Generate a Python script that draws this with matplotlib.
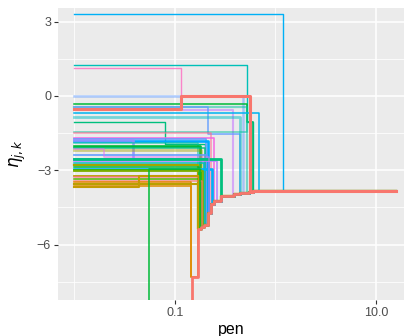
import numpy as np
import matplotlib.pyplot as plt
from matplotlib.ticker import FixedLocator, FixedFormatter, NullFormatter

plt.rcParams['font.family'] = ['Liberation Sans', 'DejaVu Sans']
plt.rcParams['mathtext.fontset'] = 'dejavusans'

# fused path that every coefficient ends up on
main_pen = [0.01, 0.149, 0.168, 0.180, 0.196, 0.212, 0.228, 0.246, 0.285,
            0.387, 0.444, 0.549, 0.601, 16.0]
main_eta = [-12.0, -7.31, -5.38, -5.29, -5.21, -4.71, -4.37, -4.26, -4.04,
            -3.98, -3.93, -3.86, -3.84, -3.84]

# each coefficient: value at the smallest pen, intermediate jumps, pen where it joins the fused path
start_eta = [3.30, 1.23, 1.12, 0.00, -0.31, -0.43, -0.57, -0.45, -0.70, -0.85,
             -1.07, -1.45, -1.49, -1.68, -1.74, -1.80, -1.78, -1.91, -2.03, -2.10,
             -2.20, -2.37, -2.53, -2.61, -2.70, -2.79, -2.88, -2.95, -2.54, -3.01,
             -3.05, -3.24, -3.28, -3.35, -3.42, -3.48, -3.55, -3.62, -3.69, -10.0,
             -2.15, -0.51]
mid_steps = [[], [(0.517, -1.07)], [(0.116, 0.0)], [], [(0.517, -1.07)], [], [],
             [(0.211, -1.55)], [], [],
             [(0.080, -1.95)], [(0.517, -1.07)], [], [], [], [], [(0.038, -2.54)], [], [], [],
             [], [], [], [], [], [], [], [], [], [],
             [], [], [], [], [], [(0.146, -7.31)], [], [(0.146, -7.31)], [(0.044, -3.24)],
             [(0.0555, -2.95)],
             [(0.0195, -2.45)], [(0.116, 0.0)]]
join_pen = [1.18, 0.60, 0.557, 0.478, 0.60, 0.52, 0.38, 0.444, 0.685, 0.444,
            0.20, 0.60, 0.228, 0.246, 0.205, 0.212, 0.196, 0.168, 0.176, 0.20,
            0.18, 0.21, 0.212, 0.26, 0.196, 0.17, 0.172, 0.235, 0.285, 0.18,
            0.19, 0.168, 0.172, 0.176, 0.185, 0.168, 0.17, 0.168, 0.172, 0.176,
            0.22, 0.557]

line_colors = ['#00B0F6', '#00C0B8', '#FF6AC1', '#619CFF', '#00BA38', '#00C1A3', '#C77CFF',
               '#619CFF', '#00B4F0', '#00BFC4', '#00BF7D', '#00C19A', '#FF6C91', '#F564E3',
               '#619CFF', '#00A9FF', '#9590FF', '#00C1A3', '#00BA38', '#00BF7D', '#A3A500',
               '#619CFF', '#00A5FF', '#B983FF', '#00BFC4', '#A3A500', '#00BA38', '#00B0F6',
               '#00BF7D', '#39B600', '#7CAE00', '#B79F00', '#FF6C91', '#53B400', '#F8766D',
               '#E58700', '#B9A000', '#DE8C00', '#C49A00', '#00BA38', '#E76BF3', '#F8766D']
line_widths = [1.0, 1.0, 1.0, 1.8, 1.1, 1.6, 1.5, 1.1, 1.1, 2.0,
               1.0, 1.1, 1.1, 1.2, 1.3, 1.9, 1.9, 1.1, 1.9, 1.1,
               2.0, 1.3, 2.0, 1.3, 1.1, 1.6, 1.1, 1.9, 2.0, 1.3,
               1.3, 1.3, 1.1, 1.1, 1.1, 1.1, 1.5, 1.1, 1.5, 1.1,
               1.1, 2.2]
line_alphas = [1, 1, 0.8, 0.5, 1, 0.5, 0.6, 0.9, 1, 0.5,
               1, 0.6, 0.7, 0.9, 0.9, 1, 0.9, 0.7, 1, 0.9,
               0.45, 0.9, 1, 0.9, 1, 1, 1, 1, 1, 1,
               1, 1, 0.8, 1, 0.8, 1, 1, 1, 1, 1,
               0.6, 1]


def build_path(start, steps, join):
    xs, ys = [0.01], [start]
    for p, v in steps:
        xs.append(p)
        ys.append(v)
    k = np.searchsorted(main_pen, join, side='right') - 1
    xs.append(join)
    ys.append(main_eta[k])
    xs.extend(main_pen[k + 1:])
    ys.extend(main_eta[k + 1:])
    return xs, ys


fig = plt.figure(figsize=(4.08, 3.36), dpi=100)
ax = fig.add_axes([58 / 408, 36 / 336, 346 / 408, 292 / 336])
ax.set_facecolor('#EBEBEB')
for s in ax.spines.values():
    s.set_visible(False)

ax.set_xscale('log')
ax.set_xlim(10 ** -2.164, 10 ** 1.279)
ax.set_ylim(-8.24, 3.55)

ax.xaxis.set_major_locator(FixedLocator([0.1, 10.0]))
ax.xaxis.set_major_formatter(FixedFormatter(['0.1', '10.0']))
ax.xaxis.set_minor_locator(FixedLocator([0.01, 1.0, 100.0]))
ax.xaxis.set_minor_formatter(NullFormatter())
ax.yaxis.set_major_locator(FixedLocator([-6, -3, 0, 3]))
ax.yaxis.set_major_formatter(FixedFormatter(['\u22126', '\u22123', '0', '3']))
ax.yaxis.set_minor_locator(FixedLocator([-7.5, -4.5, -1.5, 1.5]))

ax.grid(which='major', color='white', linewidth=1.1)
ax.grid(which='minor', color='white', linewidth=0.55)
ax.set_axisbelow(True)
ax.tick_params(which='major', length=3, width=0.8, color='#333333',
               labelcolor='#4D4D4D', labelsize=9, pad=2)
ax.tick_params(which='minor', length=0)

for i in range(len(start_eta)):
    xs, ys = build_path(start_eta[i], mid_steps[i], join_pen[i])
    ax.step(xs, ys, where='post', color=line_colors[i],
            linewidth=line_widths[i], alpha=line_alphas[i])

# fused path on top
ax.step(main_pen, main_eta, where='post', color='#F8766D', linewidth=2.0)

ax.set_xlabel('pen', fontsize=11.5, labelpad=2)
ax.set_ylabel(r'$\eta_{j,k}$', fontsize=12, labelpad=6)

fig.savefig('out.png', dpi=100)
